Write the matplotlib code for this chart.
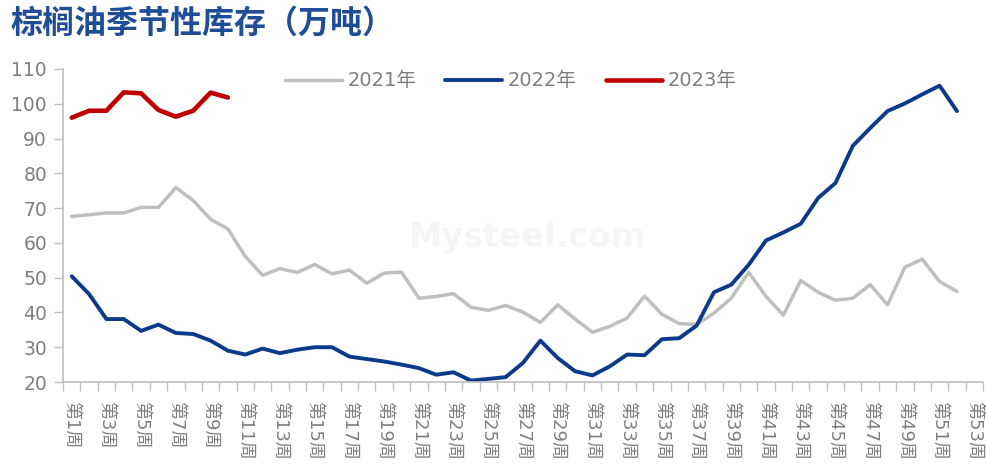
import matplotlib
matplotlib.use('Agg')
import matplotlib.pyplot as plt

plt.rcParams['font.family'] = ['DejaVu Sans', 'Noto Sans CJK SC']

# categories: week 1..53
weeks = [f'第{i}周' for i in range(1, 54)]

# inventory, 10k tonnes
stock2021 = [67.6, 68.1, 68.6, 68.6, 70.2, 70.2, 75.9, 72.2, 66.8, 64.0,
             56.1, 50.7, 52.6, 51.5, 53.8, 51.1, 52.2, 48.4, 51.3, 51.6,
             44.1, 44.6, 45.4, 41.5, 40.6, 42.0, 40.1, 37.1, 42.2, 38.1,
             34.3, 36.0, 38.4, 44.7, 39.5, 36.8, 36.5, 39.8, 44.1, 51.5,
             44.6, 39.2, 49.2, 45.8, 43.5, 44.1, 48.0, 42.2, 53.0, 55.3,
             48.9, 46.0]
stock2022 = [50.4, 45.3, 38.1, 38.1, 34.7, 36.5, 34.1, 33.8, 31.9, 29.0,
             27.9, 29.6, 28.3, 29.3, 30.0, 30.0, 27.3, 26.6, 25.9, 25.0,
             24.0, 22.1, 22.8, 20.4, 20.9, 21.4, 25.5, 31.9, 26.9, 23.1,
             21.9, 24.5, 27.9, 27.7, 32.3, 32.6, 36.2, 45.8, 48.0, 53.7,
             60.7, 63.0, 65.5, 72.9, 77.2, 87.9, 93.0, 97.9, 100.1, 102.7,
             105.2, 97.9]
stock2023 = [96.0, 98.0, 98.0, 103.3, 103.0, 98.2, 96.3, 98.0, 103.2, 101.8]

yticks = [20, 30, 40, 50, 60, 70, 80, 90, 100, 110]

fig = plt.figure(figsize=(9.87, 4.71), dpi=100)
ax = fig.add_axes([63 / 987, 1 - 382 / 471, 920 / 987, 313 / 471])

l1, = ax.plot(range(len(stock2021)), stock2021, color='#BFBFBF', lw=2.5,
              solid_joinstyle='round', solid_capstyle='round', label='2021年')
l2, = ax.plot(range(len(stock2022)), stock2022, color='#0B3A8A', lw=2.8,
              solid_joinstyle='round', solid_capstyle='round', label='2022年')
l3, = ax.plot(range(len(stock2023)), stock2023, color='#C00000', lw=3.3,
              solid_joinstyle='round', solid_capstyle='round', label='2023年')

ax.set_xlim(-0.5, len(weeks) - 0.5)
ax.set_ylim(20, 110)
ax.set_yticks(yticks)
ax.tick_params(axis='y', colors='#BFBFBF', labelcolor='#7F7F7F',
               labelsize=13.5, length=6.5, width=1, pad=5)

# labels on odd weeks, tick marks on category boundaries
ax.set_xticks(range(0, len(weeks), 2))
ax.set_xticklabels(weeks[::2], rotation=-90, fontsize=13, color='#7F7F7F',
                   va='top', ha='center')
ax.set_xticks([i - 0.5 for i in range(len(weeks) + 1)], minor=True)
ax.tick_params(axis='x', which='major', length=0, pad=14)
ax.tick_params(axis='x', which='minor', length=6.5, width=1, colors='#BFBFBF')

for s in ['top', 'right']:
    ax.spines[s].set_visible(False)
for s in ['left', 'bottom']:
    ax.spines[s].set_color('#BFBFBF')
    ax.spines[s].set_linewidth(1.2)

ax.legend(handles=[l1, l2, l3], ncol=3, frameon=False, fontsize=14,
          labelcolor='#7F7F7F', handlelength=2.9, handletextpad=0.3,
          columnspacing=1.5, loc='center',
          bbox_to_anchor=(511 / 987, 1 - 81 / 471),
          bbox_transform=fig.transFigure)

# faint watermark
fig.text(528 / 987, 1 - 238 / 471, 'Mysteel.com', fontsize=24,
         fontweight='bold', color='#F5F5F5', ha='center', va='center',
         zorder=0)

fig.text(10 / 987, 1 - 24 / 471, '棕榈油季节性库存（万吨）', fontsize=23,
         fontweight='bold', color='#1F4E96', ha='left', va='center',
         family=['Noto Sans CJK SC', 'DejaVu Sans'])

fig.savefig('out.png', dpi=100)
